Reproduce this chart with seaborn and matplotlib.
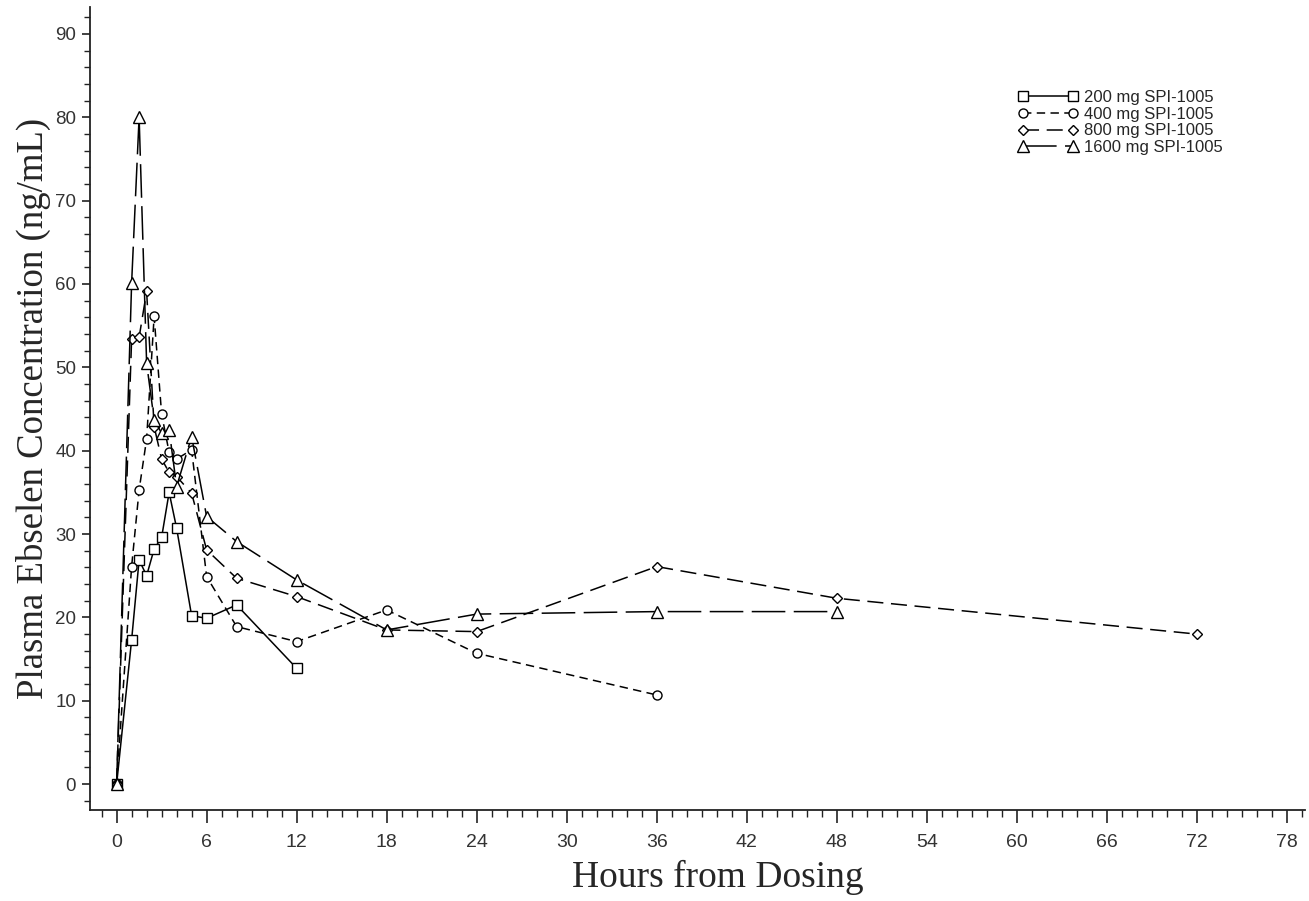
import numpy as np
import pandas as pd
import matplotlib
matplotlib.use("Agg")
import matplotlib.pyplot as plt
import seaborn as sns
from matplotlib.ticker import MultipleLocator

# hours after dosing and mean plasma ebselen concentration (ng/mL) per dose group
hours_200 = [0, 1, 1.5, 2, 2.5, 3, 3.5, 4, 5, 6, 8, 12]
conc_200 = [0, 17.3, 26.9, 25.0, 28.2, 29.6, 35.0, 30.7, 20.2, 19.9, 21.5, 13.9]

hours_400 = [0, 1, 1.5, 2, 2.5, 3, 3.5, 4, 5, 6, 8, 12, 18, 24, 36]
conc_400 = [0, 26.1, 35.3, 41.4, 56.1, 44.4, 39.8, 39.0, 40.1, 24.9, 18.9, 17.1, 20.9, 15.7, 10.7]

hours_800 = [0, 1, 1.5, 2, 2.5, 3, 3.5, 4, 5, 6, 8, 12, 18, 24, 36, 48, 72]
conc_800 = [0, 53.4, 53.6, 59.1, 42.9, 39.0, 37.4, 36.9, 34.9, 28.1, 24.7, 22.5, 18.5, 18.3, 26.1, 22.3, 18.0]

hours_1600 = [0, 1, 1.5, 2, 2.5, 3, 3.5, 4, 5, 6, 8, 12, 18, 24, 36, 48]
conc_1600 = [0, 60.1, 80.0, 50.5, 43.7, 42.1, 42.5, 35.7, 41.7, 32.1, 29.1, 24.5, 18.5, 20.4, 20.7, 20.7]

groups = ["200 mg SPI-1005", "400 mg SPI-1005", "800 mg SPI-1005", "1600 mg SPI-1005"]

frames = []
for name, h, c in zip(groups, [hours_200, hours_400, hours_800, hours_1600],
                      [conc_200, conc_400, conc_800, conc_1600]):
    frames.append(pd.DataFrame({"hours": h, "conc": c, "group": name}))
df = pd.concat(frames, ignore_index=True)

markers = dict(zip(groups, ["s", "o", "D", "^"]))
dashes = dict(zip(groups, ["", (5.5, 3.5), (10.5, 5), (22, 5.5)]))
sizes = dict(zip(groups, [7.5, 6.5, 5, 8]))

sns.set_style("ticks")
plt.rcParams["font.family"] = ["Liberation Sans", "DejaVu Sans"]

fig = plt.figure(figsize=(13.09, 9.01), dpi=100)
ax = fig.add_axes([0.0688, 0.101, 0.928, 0.891])

for name in groups:
    sub = df[df["group"] == name]
    sns.lineplot(data=sub, x="hours", y="conc", ax=ax, color="black",
                 marker=markers[name], markersize=sizes[name],
                 markerfacecolor="white", markeredgecolor="black",
                 markeredgewidth=1.0, linewidth=1.1, legend=False,
                 estimator=None, sort=True)
    if dashes[name]:
        ax.lines[-1].set_dashes(dashes[name])

ax.set_xlim(-1.77, 79.2)
ax.set_ylim(-3.1, 93.2)
ax.set_xticks(np.arange(0, 79, 6))
ax.xaxis.set_minor_locator(MultipleLocator(1))
ax.yaxis.set_major_locator(MultipleLocator(10))
ax.yaxis.set_minor_locator(MultipleLocator(2))

for side in ["top", "right"]:
    ax.spines[side].set_visible(False)
for side in ["left", "bottom"]:
    ax.spines[side].set_color("#222222")
    ax.spines[side].set_linewidth(1.3)

ax.tick_params(axis="x", which="major", length=9, width=1.2, color="#222222",
               labelsize=14, labelcolor="#333333", pad=8)
ax.tick_params(axis="x", which="minor", length=5, width=1.0, color="#222222")
ax.tick_params(axis="y", which="major", length=6, width=1.2, color="#222222",
               labelsize=13.5, labelcolor="#333333", pad=4)
ax.tick_params(axis="y", which="minor", length=4, width=1.0, color="#222222")

ax.set_xlabel("Hours from Dosing", family=["Liberation Serif", "DejaVu Serif"],
              fontsize=27)
ax.set_ylabel("Plasma Ebselen Concentration (ng/mL)",
              family=["Liberation Serif", "DejaVu Serif"], fontsize=26.5, labelpad=3)
ax.xaxis.set_label_coords(0.517, -0.062)

ax.legend(handles=ax.lines[:4], labels=groups, loc="upper left",
          bbox_to_anchor=(0.758, 0.905), frameon=False, fontsize=12,
          numpoints=2, handlelength=3.6, handletextpad=0.4, labelspacing=0.1,
          borderaxespad=0)

fig.savefig("out.png", dpi=100)
